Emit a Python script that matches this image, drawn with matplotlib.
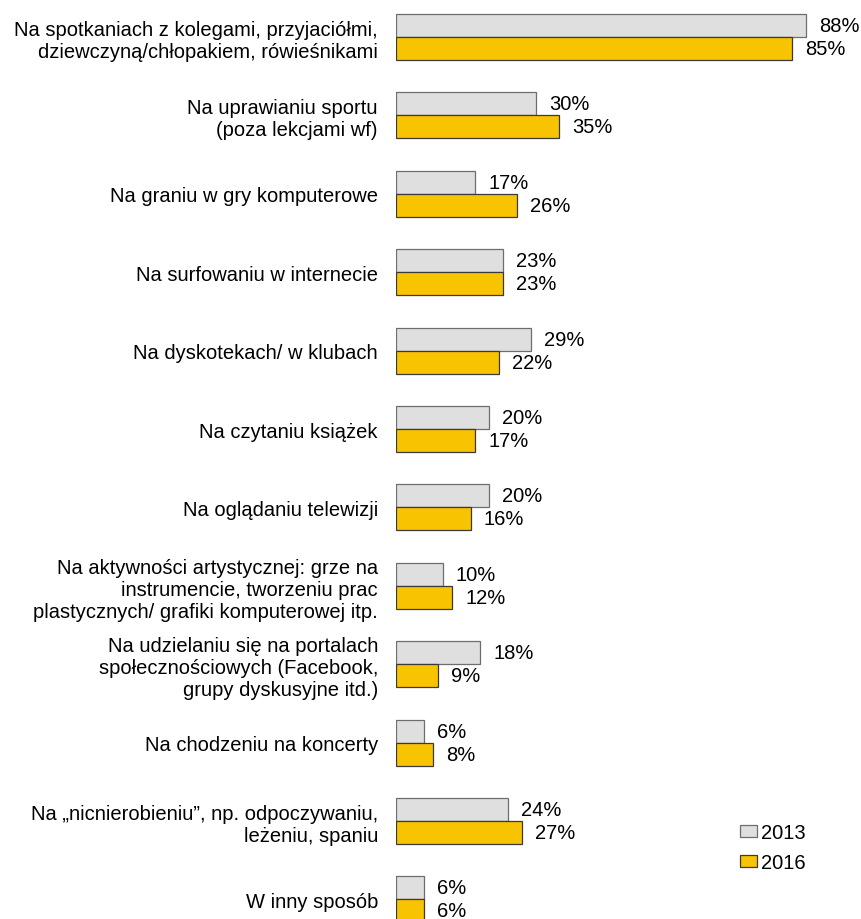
import numpy as np
import matplotlib
matplotlib.use('Agg')
import matplotlib.pyplot as plt

# Data
categories = [
    'Na spotkaniach z kolegami, przyjaciółmi,\ndziewczyną/chłopakiem, rówieśnikami',
    'Na uprawianiu sportu\n(poza lekcjami wf)',
    'Na graniu w gry komputerowe',
    'Na surfowaniu w internecie',
    'Na dyskotekach/ w klubach',
    'Na czytaniu książek',
    'Na oglądaniu telewizji',
    'Na aktywności artystycznej: grze na\ninstrumencie, tworzeniu prac\nplastycznych/ grafiki komputerowej itp.',
    'Na udzielaniu się na portalach\nspołecznościowych (Facebook,\ngrupy dyskusyjne itd.)',
    'Na chodzeniu na koncerty',
    'Na „nicnierobieniu”, np. odpoczywaniu,\nleżeniu, spaniu',
    'W inny sposób',
]
values_2013 = [88, 30, 17, 23, 29, 20, 20, 10, 18, 6, 24, 6]
values_2016 = [85, 35, 26, 23, 22, 17, 16, 12, 9, 8, 27, 6]
series_names = ['2013', '2016']

plt.rcParams['font.family'] = ['Liberation Sans', 'DejaVu Sans']
fs = 14.5

fig = plt.figure(figsize=(8.62, 9.2), dpi=100)
ax = fig.add_axes([396 / 862, 0, 466 / 862, 1])

y = np.arange(len(categories))
h = 0.293
b1 = ax.barh(y - h / 2, values_2013, height=h, color='#dfdfdf',
             edgecolor='#6e6e6e', linewidth=0.9, label=series_names[0])
b2 = ax.barh(y + h / 2, values_2016, height=h, color='#f8c300',
             edgecolor='#3a3a3a', linewidth=0.9, label=series_names[1])

for bars, vals in [(b1, values_2013), (b2, values_2016)]:
    for bar, v in zip(bars, vals):
        ax.annotate(f'{v}%', (bar.get_width(), bar.get_y() + bar.get_height() / 2),
                    xytext=(9.5, 0), textcoords='offset points',
                    ha='left', va='center', fontsize=fs)

ax.set_xlim(0, 100)
ax.set_ylim(11.25, -0.485)
ax.set_yticks(y)
ax.set_yticklabels(categories, fontsize=fs, linespacing=1.2, ha='right',
                   multialignment='right')
ax.tick_params(axis='y', length=0, pad=13)
ax.set_xticks([])
for s in ax.spines.values():
    s.set_visible(False)

ax.legend(loc='upper left', bbox_to_anchor=(0.721, 0.113), frameon=False,
          fontsize=fs, handlelength=0.85, handleheight=0.5,
          handletextpad=0.2, labelspacing=0.55, borderaxespad=0)

fig.savefig('out.png', dpi=100)
